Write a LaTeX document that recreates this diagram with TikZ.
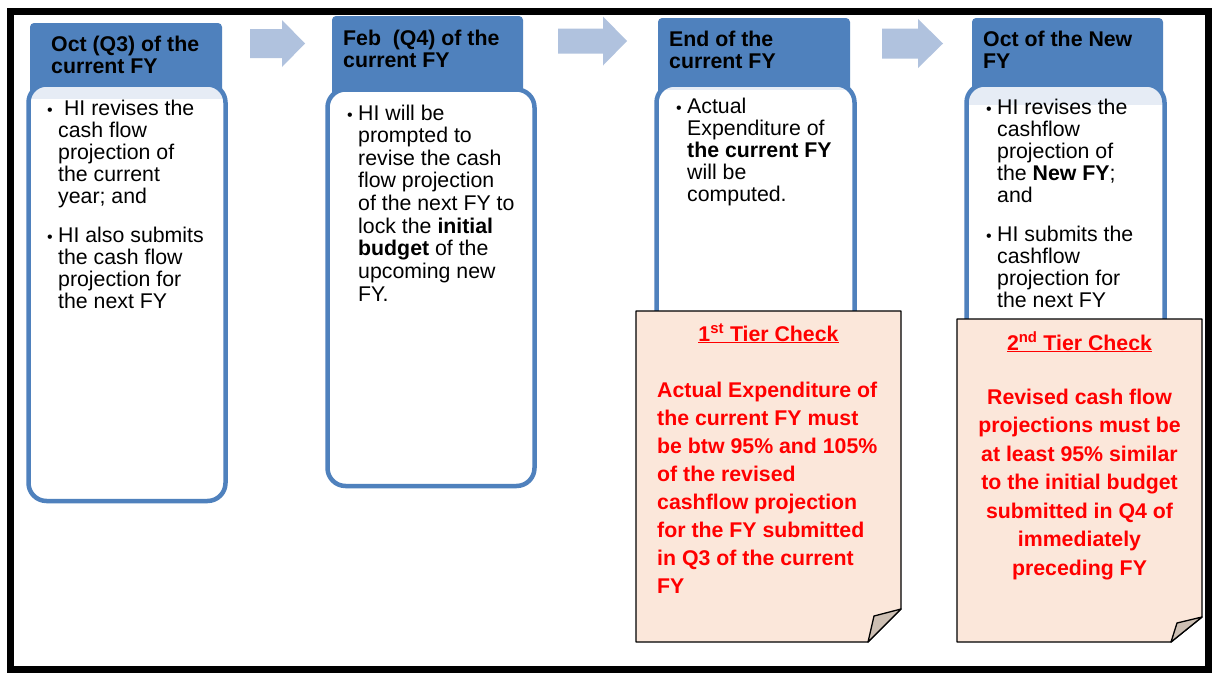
\documentclass[tikz,border=0pt]{standalone}
\usepackage{fontspec}
\setmainfont{Liberation Sans}
\definecolor{hdrblue}{HTML}{4F81BD}
\definecolor{bandblue}{HTML}{E6ECF5}
\definecolor{arrowblue}{HTML}{B0C2DE}
\definecolor{notefill}{HTML}{FBE7DA}
\definecolor{tabfill}{HTML}{CDBFB3}
\definecolor{checkred}{HTML}{FF0000}
\newcommand\blt{{\fontsize{16}{22}\selectfont\textbullet}}
\tikzset{
  hdr/.style={fill=hdrblue, rounded corners=4pt},
  body/.style={draw=hdrblue, line width=4.5pt, rounded corners=18pt},
  flow/.style={fill=arrowblue},
  note/.style={fill=notefill, draw=black, line width=1.3pt, line join=round},
  tab/.style={fill=tabfill, draw=black, line width=1.3pt, line join=round},
  hdrtext/.style={anchor=base west, inner sep=0pt, font=\fontsize{21.3}{22}\selectfont\bfseries},
  bodytext/.style={anchor=base west, inner sep=0pt, font=\fontsize{21.3}{22}\selectfont},
  checktext/.style={inner sep=0pt, text=checkred, font=\fontsize{21.3}{28}\selectfont\bfseries}
}

\begin{document}
\begin{tikzpicture}[x=1pt,y=-1pt]
\useasboundingbox (0,0) rectangle (1214,675);
\fill[white] (0,0) rectangle (1214,675);

% outer frame
\draw[line width=7pt] (10,11) rectangle (1208,669);

% block arrows
\foreach \xa/\xb/\xc/\ym/\sh/\hh in {250/282/305/43.5/14.5/23.5,558/603/627/41/12.5/24.5,882/918/943/43.5/15/24.5}
  \fill[flow] (\xa,\ym-\sh) -- (\xb,\ym-\sh) -- (\xb,\ym-\hh) -- (\xc,\ym)
    -- (\xb,\ym+\hh) -- (\xb,\ym+\sh) -- (\xa,\ym+\sh) -- cycle;

% headers
\fill[hdr] (30,23) rectangle (222,110);
\fill[hdr] (332,16) rectangle (523,110);
\fill[hdr] (658,18) rectangle (850,110);
\fill[hdr] (972,18) rectangle (1163,110);

% bodies
\foreach \l/\t/\r/\b/\bb in {28.5/84.5/225.5/501/99,327.5/89.5/534.5/486/89.5,656.5/84.5/854.5/620/90,966.5/84.5/1164.5/620/105}{
  \fill[white, rounded corners=18pt] (\l,\t) rectangle (\r,\b);
  \begin{scope}
    \clip[rounded corners=18pt] (\l,\t) rectangle (\r,\b);
    \fill[bandblue] (\l,\t) rectangle (\r,\bb);
  \end{scope}
  \draw[body] (\l,\t) rectangle (\r,\b);
}

% header texts
\node[hdrtext] (hdrOct) at (51,51) {\begin{tabular}[t]{@{}l@{}}Oct (Q3) of the\\current FY\end{tabular}};
\node[hdrtext] (hdrFeb) at (343,45) {\begin{tabular}[t]{@{}l@{}}Feb~ (Q4) of the\\current FY\end{tabular}};
\node[hdrtext] (hdrEnd) at (669,46) {\begin{tabular}[t]{@{}l@{}}End of the\\current FY\end{tabular}};
\node[hdrtext] (hdrNew) at (983,46) {\begin{tabular}[t]{@{}l@{}}Oct of the New\\FY\end{tabular}};

% body texts
\node[bodytext] (txtOct) at (47,115) {\begin{tabular}[t]{@{}p{11pt}@{}l@{}}
  \blt & \ HI revises the\\ & cash flow\\ & projection of\\ & the current\\ & year; and\\[17pt]
  \blt & HI also submits\\ & the cash flow\\ & projection for\\ & the next FY\end{tabular}};
\node[bodytext] (txtFeb) at (347,120) {\def\arraystretch{1.03}\begin{tabular}[t]{@{}p{11pt}@{}l@{}}
  \blt & HI will be\\ & prompted to\\ & revise the cash\\ & flow projection\\ & of the next FY to\\
  & lock the \textbf{initial}\\ & \textbf{budget} of the\\ & upcoming new\\ & FY.\end{tabular}};
\node[bodytext] (txtEnd) at (676,113) {\begin{tabular}[t]{@{}p{11pt}@{}l@{}}
  \blt & Actual\\ & Expenditure of\\ & \textbf{the current FY}\\ & will be\\ & computed.\end{tabular}};
\node[bodytext] (txtNew) at (986,114) {\begin{tabular}[t]{@{}p{11pt}@{}l@{}}
  \blt & HI revises the\\ & cashflow\\ & projection of\\ & the \textbf{New FY};\\ & and\\[17pt]
  \blt & HI submits the\\ & cashflow\\ & projection for\\ & the next FY\end{tabular}};

% tier check notes
\filldraw[note] (636,311) -- (901,311) -- (901,609) -- (868,642) -- (636,642) -- cycle;
\filldraw[tab] (868,642) -- (874,616) -- (901,609) -- cycle;
\filldraw[note] (957,319) -- (1202,319) -- (1202,617) -- (1171,642) -- (957,642) -- cycle;
\filldraw[tab] (1171,642) -- (1177,623) -- (1202,617) -- cycle;

\node[checktext, anchor=base] (chkOneTitle) at (768.5,341) {\underline{1\textsuperscript{st} Tier Check}};
\node[checktext, anchor=base west] (chkOne) at (657,397) {\begin{tabular}[t]{@{}l@{}}
  Actual Expenditure of\\ the current FY must\\ be btw 95\% and 105\%\\ of the revised\\
  cashflow projection\\ for the FY submitted\\ in Q3 of the current\\ FY\end{tabular}};
\node[checktext, anchor=base] (chkTwoTitle) at (1079.5,350) {\underline{2\textsuperscript{nd} Tier Check}};
\node[checktext, anchor=base, font=\fontsize{21.3}{28.5}\selectfont\bfseries] (chkTwo) at (1079.5,404) {\begin{tabular}[t]{@{}c@{}}
  Revised cash flow\\ projections must be\\ at least 95\% similar\\ to the initial budget\\
  submitted in Q4 of\\ immediately\\ preceding FY\end{tabular}};
\end{tikzpicture}
\end{document}
